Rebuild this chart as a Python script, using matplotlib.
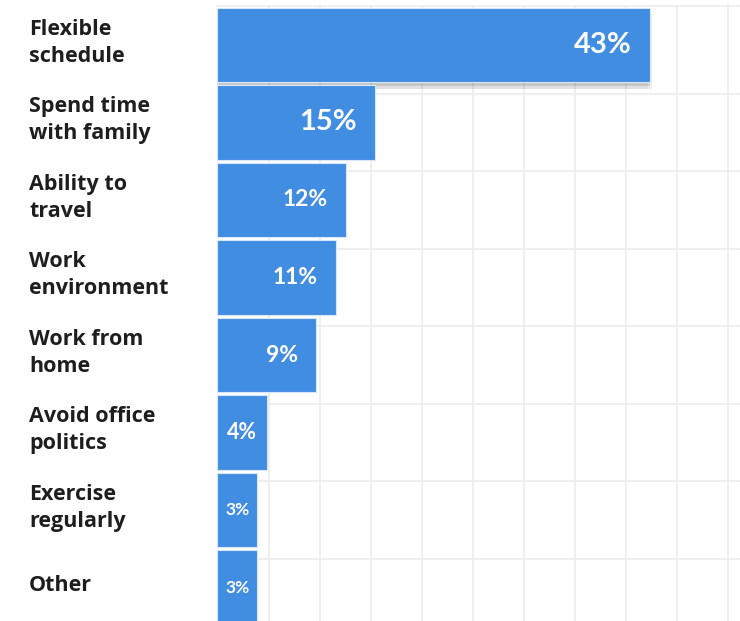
"""Horizontal bar chart -- top reasons for remote work (share of respondents)."""

import matplotlib
matplotlib.use("Agg")
import matplotlib.pyplot as plt
import matplotlib.patheffects as pe
import matplotlib.transforms as mtransforms
import numpy as np

categories = ["Flexible\nschedule", "Spend time\nwith family", "Ability to\ntravel",
              "Work\nenvironment", "Work from\nhome", "Avoid office\npolitics",
              "Exercise\nregularly", "Other"]
shares = [43, 15, 12, 11, 9, 4, 3, 3]
value_labels = ["43%", "15%", "12%", "11%", "9%", "4%", "3%", "3%"]

BLUE = "#418de1"
GRID = "#ececec"
TEXT = "#1e1e1e"
FONT = "Lato"
CAT_FONT = "Open Sans"
XMIN, XMAX = -1.11, 52.2                    # bars start at the left edge, not at 0
label_sizes = [21, 21, 16.5, 16.5, 16.5, 15.5, 12.5, 12.5]

fig = plt.figure(figsize=(7.4, 6.21), dpi=100)
ax = fig.add_axes([217 / 740, 0, 523 / 740, 615 / 621])
y = np.arange(len(shares))
ax.set_xlim(XMIN, XMAX)
ax.set_ylim(7.432, -0.503)

bars = ax.barh(y, [v - XMIN for v in shares], left=XMIN, height=0.965,
               color=BLUE, edgecolor="#d6e7fb", linewidth=0.8, zorder=3)
bars[0].set_path_effects([
    pe.SimplePatchShadow(offset=(0, -2.5), shadow_rgbFace="k", alpha=0.10),
    pe.SimplePatchShadow(offset=(1.5, -4.5), shadow_rgbFace="k", alpha=0.08),
    pe.SimplePatchShadow(offset=(-1.5, -4.5), shadow_rgbFace="k", alpha=0.05),
    pe.Normal()])

for i, (v, txt) in enumerate(zip(shares, value_labels)):
    if v >= 9:
        ax.annotate(txt, (v, i), xytext=(-13, 0), textcoords="offset points",
                    ha="right", va="center", color="white", fontsize=label_sizes[i],
                    family=FONT, weight="bold", zorder=4)
    else:
        ax.text((XMIN + v) / 2, i, txt, ha="center", va="center", color="white",
                fontsize=label_sizes[i], family=FONT, weight="bold", zorder=4)

# category labels: x in figure coords, y in data coords
trans = mtransforms.blended_transform_factory(fig.transFigure, ax.transData)
for i, name in enumerate(categories):
    ax.text(29 / 740, i - 0.03, name, transform=trans, ha="left", va="center",
            color=TEXT, fontsize=15.5, family=CAT_FONT, weight="bold",
            linespacing=1.38, clip_on=False)

# background grid
grid_x = 52 / 523 + np.arange(10) * 51 / 523
ax.vlines(grid_x, 0, 1, transform=ax.transAxes, color=GRID, linewidth=1.2, zorder=1)
ax.hlines(y[:-1] + 0.63, XMIN, XMAX, color=GRID, linewidth=1.2, zorder=1)

ax.set_xticks([])
ax.set_yticks([])
for side in ["left", "right", "bottom"]:
    ax.spines[side].set_visible(False)
ax.spines["top"].set_color(GRID)
ax.spines["top"].set_linewidth(1.2)

fig.savefig("out.png", dpi=100)
